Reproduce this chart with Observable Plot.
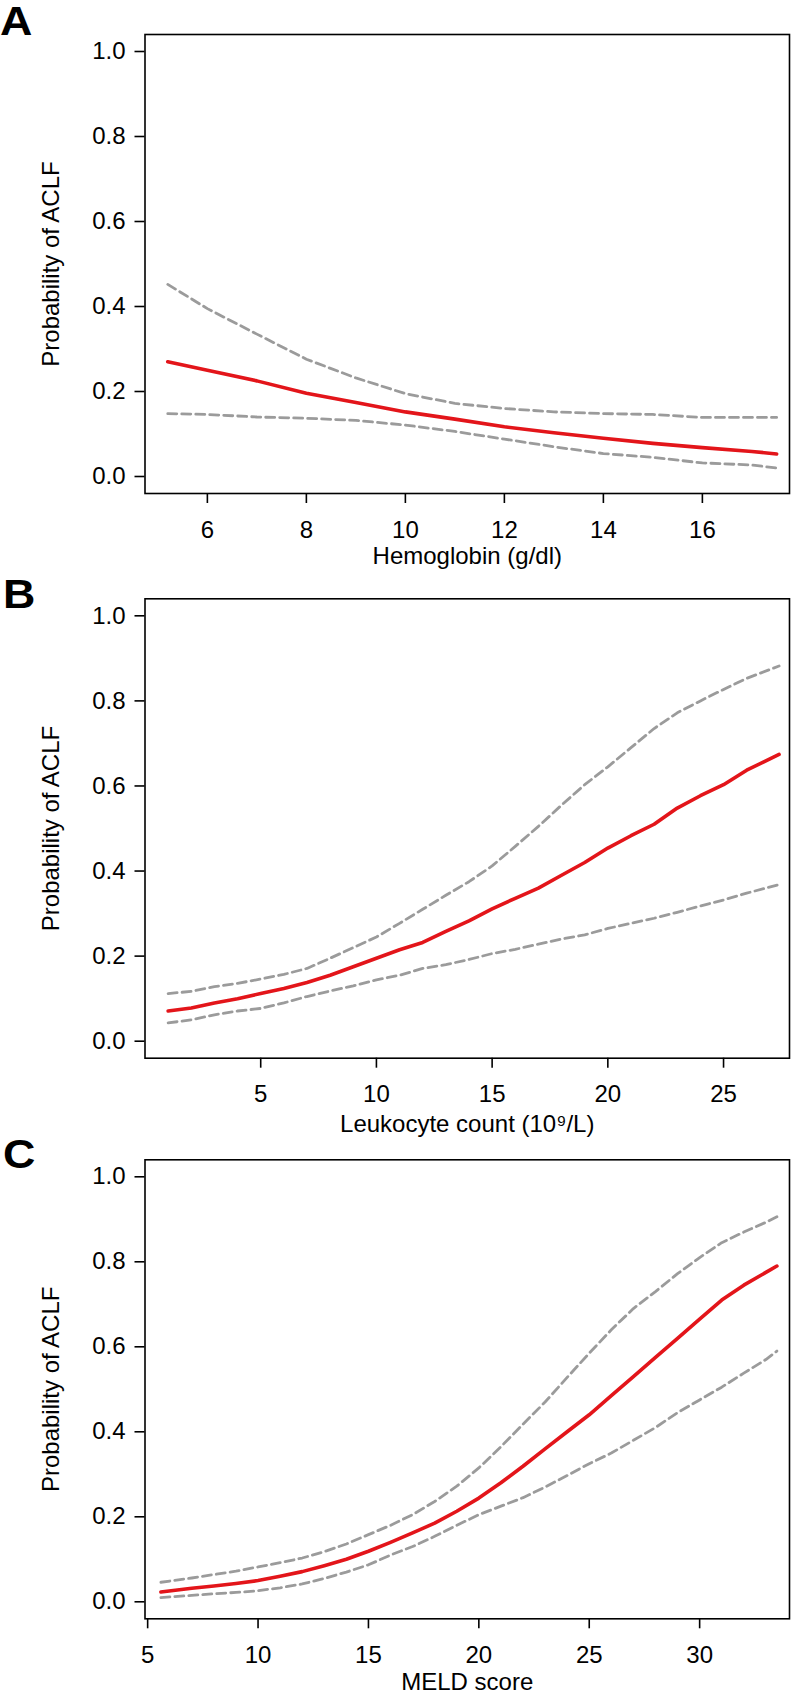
<!DOCTYPE html>
<html>
<head>
<meta charset="utf-8">
<script src="https://cdn.jsdelivr.net/npm/d3@7"></script>
<script src="https://cdn.jsdelivr.net/npm/@observablehq/plot@0.6"></script>
<style>
  body { margin: 0; background: #fff; }
  #chart { position: relative; width: 791px; }
  #chart svg { display: block; }
  .panel-letter {
    position: absolute;
    font-family: 'Liberation Sans', Arial, Helvetica, sans-serif;
    font-weight: bold;
    font-size: 40px;
    line-height: 1;
    color: #000;
    transform: scaleX(1.12);
    transform-origin: left top;
  }
</style>
</head>
<body>
<div id="chart"></div>
<script>
// ---- Panel A: Hemoglobin ----
const hgbX     = [5.2, 6, 7, 8, 9, 10, 11, 12, 13, 14, 15, 16, 17, 17.5];
const hgbFit   = [0.270, 0.250, 0.225, 0.196, 0.174, 0.152, 0.135, 0.117, 0.103, 0.090, 0.078, 0.068, 0.059, 0.053];
const hgbUpper = [0.452, 0.395, 0.335, 0.276, 0.232, 0.195, 0.172, 0.160, 0.152, 0.148, 0.146, 0.139, 0.139, 0.139];
const hgbLower = [0.148, 0.146, 0.140, 0.137, 0.132, 0.121, 0.106, 0.088, 0.070, 0.054, 0.045, 0.032, 0.027, 0.020];
const hgbTicks = [6, 8, 10, 12, 14, 16];

// ---- Panel B: Leukocyte count ----
const wbcX     = [1, 2, 3, 4, 5, 6, 7, 8, 9, 10, 11, 12, 13, 14, 15, 16, 17, 18, 19, 20, 21, 22, 23, 24, 25, 26, 27.4];
const wbcFit   = [0.071, 0.078, 0.090, 0.100, 0.112, 0.124, 0.138, 0.155, 0.175, 0.195, 0.215, 0.232, 0.258, 0.283, 0.311, 0.336, 0.360, 0.390, 0.420, 0.454, 0.483, 0.510, 0.548, 0.577, 0.603, 0.637, 0.674];
const wbcUpper = [0.112, 0.117, 0.128, 0.136, 0.146, 0.157, 0.171, 0.195, 0.220, 0.245, 0.277, 0.310, 0.343, 0.375, 0.412, 0.458, 0.505, 0.555, 0.603, 0.645, 0.690, 0.735, 0.772, 0.800, 0.827, 0.853, 0.882];
const wbcLower = [0.043, 0.050, 0.062, 0.071, 0.077, 0.090, 0.105, 0.118, 0.130, 0.144, 0.155, 0.171, 0.180, 0.192, 0.206, 0.216, 0.228, 0.240, 0.250, 0.265, 0.277, 0.289, 0.303, 0.318, 0.332, 0.348, 0.368];
const wbcTicks = [5, 10, 15, 20, 25];

// ---- Panel C: MELD score ----
const meldX     = [5.6, 7, 8, 9, 10, 11, 12, 13, 14, 15, 16, 17, 18, 19, 20, 21, 22, 23, 24, 25, 26, 27, 28, 29, 30, 31, 32, 33, 33.5];
const meldFit   = [0.023, 0.032, 0.037, 0.043, 0.050, 0.060, 0.071, 0.085, 0.100, 0.119, 0.140, 0.162, 0.185, 0.213, 0.244, 0.280, 0.319, 0.360, 0.400, 0.440, 0.485, 0.530, 0.575, 0.620, 0.665, 0.710, 0.745, 0.775, 0.790];
const meldUpper = [0.046, 0.056, 0.064, 0.072, 0.082, 0.092, 0.103, 0.118, 0.136, 0.158, 0.180, 0.205, 0.236, 0.272, 0.315, 0.365, 0.418, 0.470, 0.528, 0.585, 0.640, 0.690, 0.730, 0.772, 0.810, 0.845, 0.870, 0.893, 0.906];
const meldLower = [0.010, 0.015, 0.019, 0.022, 0.026, 0.033, 0.042, 0.055, 0.070, 0.087, 0.110, 0.130, 0.154, 0.180, 0.205, 0.225, 0.245, 0.270, 0.297, 0.325, 0.350, 0.380, 0.410, 0.445, 0.475, 0.505, 0.538, 0.570, 0.590];
const meldTicks = [5, 10, 15, 20, 25, 30];

const yTicks = [0, 0.2, 0.4, 0.6, 0.8, 1.0];
const yTitle = "Probability of ACLF";
const panelLetters = ["A", "B", "C"];
const xTitles = ["Hemoglobin (g/dl)", "Leukocyte count (10\u2079/L)", "MELD score"];

const FONT = "'Liberation Sans', Arial, Helvetica, sans-serif";

const panels = [
  {xs: hgbX, fit: hgbFit, hi: hgbUpper, lo: hgbLower, ticks: hgbTicks, xDomain: [4.74, 17.76],
   height: 575, marginTop: 34, marginBottom: 82, titleDy: 63, letterLeft: 0, letterTop: 1},
  {xs: wbcX, fit: wbcFit, hi: wbcUpper, lo: wbcLower, ticks: wbcTicks, xDomain: [0.0, 27.85],
   height: 565, marginTop: 23.3, marginBottom: 82.3, titleDy: 66, letterLeft: 3, letterTop: 573.5},
  {xs: meldX, fit: meldFit, hi: meldUpper, lo: meldLower, ticks: meldTicks, xDomain: [4.88, 34.07],
   height: 555, marginTop: 19.3, marginBottom: 76.7, titleDy: 64, letterLeft: 3, letterTop: 1133.5}
];

const chart = document.getElementById("chart");

panels.forEach((p, k) => {
  const rows = p.xs.map((x, i) => ({x, fit: p.fit[i], hi: p.hi[i], lo: p.lo[i]}));
  const svg = Plot.plot({
    width: 791,
    height: p.height,
    marginTop: p.marginTop,
    marginBottom: p.marginBottom,
    marginLeft: 144.5,
    marginRight: 2,
    style: {fontFamily: FONT, background: "white", color: "black"},
    x: {domain: p.xDomain},
    y: {domain: [-0.04, 1.04]},
    marks: [
      Plot.axisY({ticks: yTicks, tickFormat: d3.format(".1f"), tickSize: 10, tickPadding: 9.5,
                  fontSize: 24, strokeWidth: 1.6, label: null}),
      Plot.axisX({ticks: p.ticks, tickFormat: d => String(d), tickSize: 10, tickPadding: 17,
                  fontSize: 24, strokeWidth: 1.6, label: null}),
      Plot.line(rows, {x: "x", y: "hi", stroke: "#9b9b9b", strokeWidth: 2.8, strokeDasharray: "9,5"}),
      Plot.line(rows, {x: "x", y: "lo", stroke: "#9b9b9b", strokeWidth: 2.8, strokeDasharray: "9,5"}),
      Plot.line(rows, {x: "x", y: "fit", stroke: "#e3151a", strokeWidth: 3.6}),
      Plot.frame({stroke: "black", strokeWidth: 1.6}),
      Plot.text([yTitle], {text: d => d, frameAnchor: "left", textAnchor: "middle", lineAnchor: "middle",
                           rotate: -90, dx: -93.5, fontSize: 24, fill: "black"}),
      Plot.text([xTitles[k]], {text: d => d, frameAnchor: "bottom", textAnchor: "middle", lineAnchor: "middle",
                               dy: p.titleDy, fontSize: 24, fill: "black"})
    ]
  });
  chart.appendChild(svg);

  const letter = document.createElement("div");
  letter.className = "panel-letter";
  letter.textContent = panelLetters[k];
  letter.style.left = p.letterLeft + "px";
  letter.style.top = p.letterTop + "px";
  chart.appendChild(letter);
});
</script>
</body>
</html>
